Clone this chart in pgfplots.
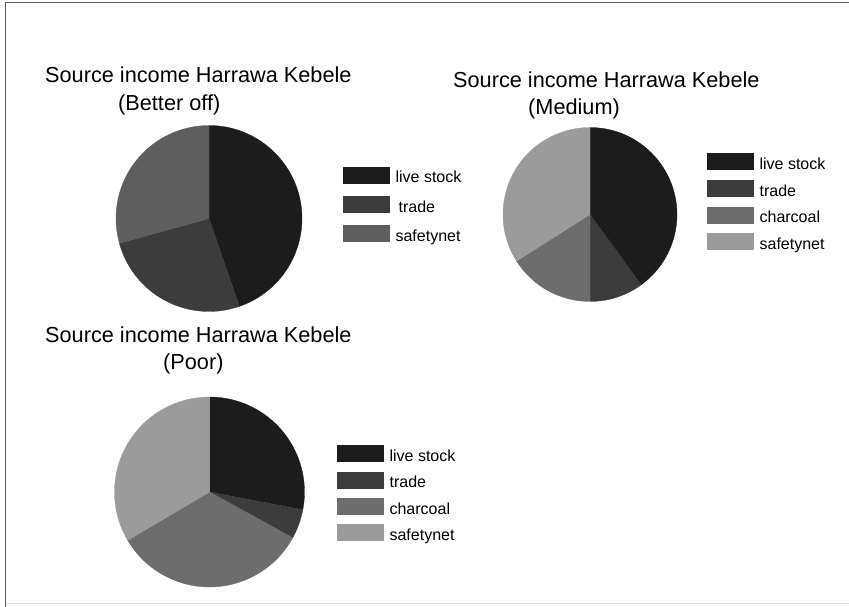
\documentclass[border=0pt]{standalone}
\usepackage{pgfplots}
\pgfplotsset{compat=1.18}
\usepackage{pgfplotstable}
\usepackage{fontspec}
\setmainfont{Liberation Sans}

\definecolor{c1}{HTML}{1C1C1C}
\definecolor{c2}{HTML}{3C3C3C}
\definecolor{c3}{HTML}{6D6D6D}
\definecolor{c4}{HTML}{9B9B9B}
\definecolor{c3b}{HTML}{5E5E5E}

% share of income (%), clockwise from 12 o'clock
\pgfplotstableread{
source value color
livestock 44.7 c1
trade 26.0 c2
safetynet 29.3 c3b
}\betteroff
\pgfplotstableread{
source value color
livestock 40.0 c1
trade 10.0 c2
charcoal 16.0 c3
safetynet 34.0 c4
}\medium
\pgfplotstableread{
source value color
livestock 28.0 c1
trade 5.0 c2
charcoal 33.5 c3
safetynet 33.5 c4
}\poor

\newcommand\drawpie[2]{%
  \pgfplotsextra{%
    \pgfplotstablegetrowsof{#1}%
    \pgfmathtruncatemacro\lastrow{\pgfplotsretval-1}%
    \gdef\pieangle{90}%
    \foreach \k in {0,...,\lastrow}{%
      \pgfplotstablegetelem{\k}{value}\of{#1}\let\pieval\pgfplotsretval
      \pgfplotstablegetelem{\k}{color}\of{#1}\let\piecol\pgfplotsretval
      \pgfmathsetmacro\pieend{\pieangle-3.6*\pieval}%
      \fill[fill=\piecol, draw=\piecol, line width=0.3pt]
        (axis cs:0,0) -- ++(\pieangle:#2pt)
        arc[start angle=\pieangle, end angle=\pieend, radius=#2pt] -- cycle;
      \global\let\pieangle\pieend
    }%
  }%
}
\newcommand\swatch[1]{\addlegendimage{legend image code/.code={\fill[#1] (0pt,0pt) rectangle (46pt,16pt);}}}

\pgfplotsset{
  piechart/.style={
    x=1pt, y=1pt, xmin=-100, xmax=100, ymin=-100, ymax=100,
    hide axis, clip=false, anchor=center,
    legend cell align=left,
    legend style={draw=none, fill=none, inner sep=0pt, column sep=6pt,
      font=\fontsize{16}{19}\selectfont, anchor=north west,
      nodes={inner sep=0pt, anchor=base west}},
  },
}

\begin{document}
\begin{tikzpicture}[x=1pt, y=1pt]
\useasboundingbox (0,0) rectangle (849,607);
\fill[white] (0,0) rectangle (849,607);
\draw[black!12, line width=1pt] (5,3) -- (849,3);
\draw[black!65, line width=1pt] (5,0) -- (5,604) -- (849,604);

\begin{axis}[piechart, at={(209,388.5)},
  legend style={at={(axis cs:134,52)}, row sep=11.5pt}]
  \drawpie{\betteroff}{93}
  \swatch{c1}\swatch{c2}\swatch{c3b}
  \legend{live stock, \hspace{3pt}trade, safetynet}
\end{axis}

\begin{axis}[piechart, at={(590,392.5)},
  legend style={at={(axis cs:117,61.5)}, row sep=9pt}]
  \drawpie{\medium}{87}
  \swatch{c1}\swatch{c2}\swatch{c3}\swatch{c4}
  \legend{live stock, trade, charcoal, safetynet}
\end{axis}

\begin{axis}[piechart, at={(209.5,115)},
  legend style={at={(axis cs:127.5,47)}, row sep=8.7pt}]
  \drawpie{\poor}{95}
  \swatch{c1}\swatch{c2}\swatch{c3}\swatch{c4}
  \legend{live stock, trade, charcoal, safetynet}
\end{axis}

\begin{scope}[every node/.style={anchor=base west, inner sep=0pt,
    font=\fontsize{21.7}{26}\selectfont}]
  \node at (45,524) {Source income Harrawa Kebele};
  \node at (118,496) {(Better off)};
  \node at (453,519) {Source income Harrawa Kebele};
  \node at (528,492) {(Medium)};
  \node at (45,264) {Source income Harrawa Kebele};
  \node at (163,237) {(Poor)};
\end{scope}
\end{tikzpicture}
\end{document}
